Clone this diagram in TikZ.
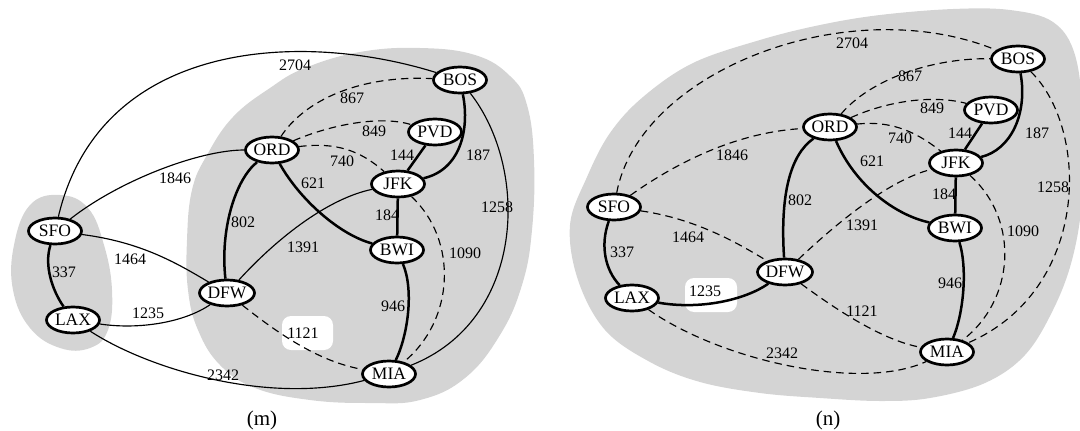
\documentclass[tikz,border=0pt]{standalone}
\usepackage{fontspec}
\setmainfont{Liberation Serif}
\usetikzlibrary{shapes.geometric}
\pgfdeclarelayer{bg}
\pgfdeclarelayer{edges}
\pgfsetlayers{bg,edges,main}
\definecolor{blobgray}{RGB}{212,212,212}
\tikzset{
  city/.style={ellipse, draw, line width=2.7pt, fill=white, minimum width=53pt,
    minimum height=26pt, inner sep=0pt, font=\fontsize{17.5}{18}\selectfont},
  heavy/.style={line width=2.5pt},
  light/.style={line width=1.15pt},
  dashedge/.style={line width=1.15pt, dash pattern=on 7.5pt off 5pt},
  wlabel/.style={font=\fontsize{16}{17}\selectfont, inner sep=0pt},
  caption/.style={font=\fontsize{21}{22}\selectfont, inner sep=0pt},
  region/.style={fill=blobgray, draw=none},
  whitepatch/.style={fill=white, draw=none, rounded corners=9pt}
}
\begin{document}
\begin{tikzpicture}[x=1pt,y=-1pt]
\useasboundingbox (0,0) rectangle (1080,431);

% ---------------- nodes (m)
\node[city] (mSFO) at (55,231) {SFO};
\node[city] (mLAX) at (73,320) {LAX};
\node[city] (mDFW) at (227,293) {DFW};
\node[city] (mORD) at (272,150) {ORD};
\node[city] (mBOS) at (460,80) {BOS};
\node[city] (mPVD) at (435,132) {PVD};
\node[city] (mJFK) at (398,184) {JFK};
\node[city] (mBWI) at (397,250) {BWI};
\node[city] (mMIA) at (389,374) {MIA};

% ---------------- nodes (n)
\node[city] (nSFO) at (614,207) {SFO};
\node[city] (nLAX) at (632,298) {LAX};
\node[city] (nDFW) at (785,272) {DFW};
\node[city] (nORD) at (830,127) {ORD};
\node[city] (nBOS) at (1018,59) {BOS};
\node[city] (nPVD) at (991,110) {PVD};
\node[city] (nJFK) at (956,163) {JFK};
\node[city] (nBWI) at (955,228) {BWI};
\node[city] (nMIA) at (947,352) {MIA};

% ---------------- background regions
\begin{pgfonlayer}{bg}
\fill[region] plot[smooth cycle, tension=0.7] coordinates {
  (60,195) (88,208) (104,245) (112,290) (108,330) (90,348) (60,348)
  (30,328) (13,290) (14,245) (30,205)};
\fill[region] plot[smooth cycle, tension=0.7] coordinates {
  (187,240) (192,190) (207,155) (233,117) (270,88) (305,68) (360,52)
  (420,48) (475,55) (510,76) (527,105) (534,160) (532,230) (522,285)
  (500,335) (465,378) (420,400) (370,403) (310,400) (255,388) (220,365)
  (198,330) (188,290)};
\fill[region] plot[smooth cycle, tension=0.6] coordinates {
  (570,225) (578,280) (605,330) (650,362) (700,382) (760,393) (820,398)
  (880,401) (930,398) (985,383) (1025,355) (1053,310) (1072,260)
  (1082,200) (1083,120) (1075,55) (1053,22) (1010,10) (953,9) (880,15)
  (820,25) (760,40) (693,63) (643,97) (610,133) (587,177)};
\fill[whitepatch] (282,316) rectangle (333,350);
\fill[whitepatch] (685,278) rectangle (737,312);
\end{pgfonlayer}

% ---------------- edges (m)
\begin{pgfonlayer}{edges}
\draw[light] (mSFO) .. controls (100,40) and (300,30) .. (mBOS);
\draw[light] (mSFO) .. controls (120,180) and (200,150) .. (mORD);
\draw[light] (mSFO) .. controls (140,242) and (175,262) .. (mDFW);
\draw[heavy] (mSFO) .. controls (44,265) and (52,290) .. (mLAX);
\draw[light] (mLAX) .. controls (140,330) and (185,322) .. (mDFW);
\draw[light] (mLAX) .. controls (150,370) and (270,405) .. (mMIA);
\draw[heavy] (mDFW) .. controls (220,230) and (235,180) .. (mORD);
\draw[light] (mDFW) .. controls (280,235) and (330,198) .. (mJFK);
\draw[dashedge] (mDFW) .. controls (280,335) and (320,362) .. (mMIA);
\draw[dashedge] (mORD) .. controls (305,100) and (360,75) .. (mBOS);
\draw[dashedge] (mORD) .. controls (330,125) and (380,115) .. (mPVD);
\draw[dashedge] (mORD) .. controls (335,142) and (360,150) .. (mJFK);
\draw[heavy] (mORD) .. controls (300,200) and (340,235) .. (mBWI);
\draw[heavy] (mPVD) -- (mJFK);
\draw[heavy] (mBOS) .. controls (470,130) and (460,170) .. (mJFK);
\draw[light] (mBOS) .. controls (530,170) and (525,320) .. (mMIA);
\draw[heavy] (mJFK) -- (mBWI);
\draw[dashedge] (mJFK) .. controls (458,240) and (455,320) .. (mMIA);
\draw[heavy] (mBWI) .. controls (414,290) and (408,335) .. (mMIA);

% ---------------- edges (n)
\draw[dashedge] (nSFO) .. controls (640,70) and (850,-10) .. (nBOS);
\draw[dashedge] (nSFO) .. controls (680,160) and (740,132) .. (nORD);
\draw[dashedge] (nSFO) .. controls (690,218) and (730,238) .. (nDFW);
\draw[heavy] (nSFO) .. controls (600,245) and (605,270) .. (nLAX);
\draw[heavy] (nLAX) .. controls (700,310) and (745,300) .. (nDFW);
\draw[dashedge] (nLAX) .. controls (720,360) and (860,392) .. (nMIA);
\draw[heavy] (nDFW) .. controls (780,195) and (790,155) .. (nORD);
\draw[dashedge] (nDFW) .. controls (840,220) and (890,180) .. (nJFK);
\draw[dashedge] (nDFW) .. controls (830,305) and (880,340) .. (nMIA);
\draw[dashedge] (nORD) .. controls (870,80) and (930,58) .. (nBOS);
\draw[dashedge] (nORD) .. controls (890,100) and (935,95) .. (nPVD);
\draw[dashedge] (nORD) .. controls (895,120) and (920,135) .. (nJFK);
\draw[heavy] (nORD) .. controls (855,185) and (895,215) .. (nBWI);
\draw[heavy] (nPVD) -- (nJFK);
\draw[heavy] (nBOS) .. controls (1028,115) and (1010,150) .. (nJFK);
\draw[dashedge] (nBOS) .. controls (1090,130) and (1090,290) .. (nMIA);
\draw[heavy] (nJFK) -- (nBWI);
\draw[dashedge] (nJFK) .. controls (1020,220) and (1015,300) .. (nMIA);
\draw[heavy] (nBWI) .. controls (968,270) and (963,315) .. (nMIA);
\end{pgfonlayer}

% ---------------- labels (m)
\node[wlabel] (lm2704) at (295,65) {2704};
\node[wlabel] (lm867) at (352,98) {867};
\node[wlabel] (lm849) at (374,131) {849};
\node[wlabel] (lm740) at (342,161) {740};
\node[wlabel] (lm144) at (402,155) {144};
\node[wlabel] (lm187) at (478,155) {187};
\node[wlabel] (lm621) at (313,183) {621};
\node[wlabel] (lm1258) at (497,207) {1258};
\node[wlabel] (lm184) at (387,215) {184};
\node[wlabel] (lm1846) at (175,178) {1846};
\node[wlabel] (lm802) at (243,222) {802};
\node[wlabel] (lm1464) at (130,259) {1464};
\node[wlabel] (lm337) at (64,272) {337};
\node[wlabel] (lm1235) at (148,313) {1235};
\node[wlabel] (lm2342) at (223,375) {2342};
\node[wlabel] (lm1391) at (303,247) {1391};
\node[wlabel] (lm1090) at (465,253) {1090};
\node[wlabel] (lm946) at (393,306) {946};
\node[wlabel] (lm1121) at (303,333) {1121};

% ---------------- labels (n)
\node[wlabel] (ln2704) at (852,43) {2704};
\node[wlabel] (ln867) at (910,76) {867};
\node[wlabel] (ln849) at (932,108) {849};
\node[wlabel] (ln740) at (900,138) {740};
\node[wlabel] (ln144) at (960,133) {144};
\node[wlabel] (ln187) at (1037,133) {187};
\node[wlabel] (ln621) at (872,161) {621};
\node[wlabel] (ln1258) at (1053,187) {1258};
\node[wlabel] (ln184) at (944,194) {184};
\node[wlabel] (ln1846) at (732,155) {1846};
\node[wlabel] (ln802) at (800,200) {802};
\node[wlabel] (ln1464) at (688,237) {1464};
\node[wlabel] (ln337) at (622,252) {337};
\node[wlabel] (ln1235) at (705,291) {1235};
\node[wlabel] (ln2342) at (782,353) {2342};
\node[wlabel] (ln1391) at (862,225) {1391};
\node[wlabel] (ln1090) at (1023,231) {1090};
\node[wlabel] (ln946) at (950,283) {946};
\node[wlabel] (ln1121) at (862,311) {1121};

% ---------------- captions
\node[caption] (capm) at (262,420) {(m)};
\node[caption] (capn) at (828,420) {(n)};
\end{tikzpicture}
\end{document}
